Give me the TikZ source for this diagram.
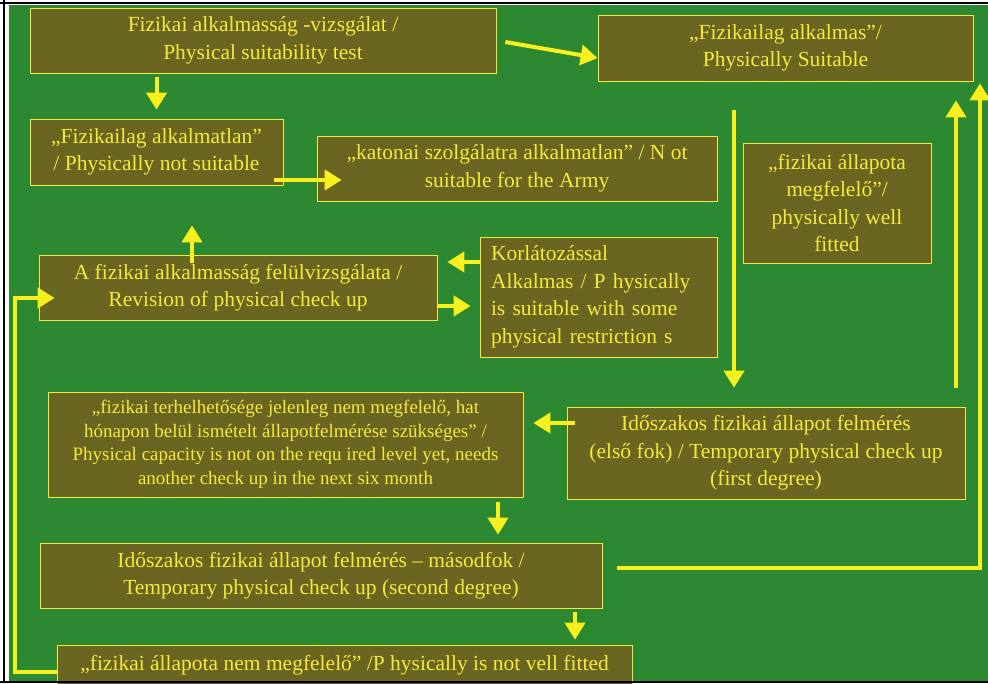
\documentclass[tikz,border=0pt]{standalone}
\usepackage{fontspec}
\setmainfont{Liberation Serif}
\usetikzlibrary{arrows.meta}

\definecolor{bggreen}{RGB}{45,136,50}
\definecolor{boxolive}{RGB}{106,101,32}
\definecolor{txtyellow}{RGB}{243,234,60}
\definecolor{arryellow}{RGB}{247,240,30}

\begin{document}
\begin{tikzpicture}[x=1pt,y=-1pt,>={Triangle[width=20pt,length=17pt]},
	box node/.style={draw=txtyellow,line width=0.7pt,fill=boxolive,text=txtyellow,inner sep=0pt,align=center,font=\fontsize{21.5}{27.5}\selectfont},
	small box/.style={box node,font=\fontsize{19}{23.5}\selectfont},
	arr/.style={->,draw=arryellow,line width=4pt}]

	\useasboundingbox (0,0) rectangle (988,683);

	%the green board behind everything
	\begin{scope}
		\fill[white] (0,0) rectangle (988,683);
		\fill[bggreen] (9,5) rectangle (988,681);
	\end{scope}

	%the boxes, top to bottom
	\begin{scope}
		\node[box node, minimum width=466pt, minimum height=65pt] (test) at (263,40.5) {Fizikai  alkalmasság -vizsgálat /\\Physical suitability test};
		\node[box node, minimum width=375pt, minimum height=66pt] (suit) at (785.5,48) {„Fizikailag alkalmas”/\\Physically  Suitable};
		\node[box node, minimum width=253pt, minimum height=66pt] (unfit) at (156.5,152) {„Fizikailag alkalmatlan”\\/ Physically not suitable};
		\node[box node, minimum width=400pt, minimum height=65pt] (army) at (517,168.5) {„katonai szolgálatra alkalmatlan” /  N ot\\suitable for the Army};
		\node[box node, minimum width=188pt, minimum height=120pt] (well) at (837,203) {„fizikai állapota\\megfelelő”/\\physically well\\fitted};
		\node[box node, minimum width=398pt, minimum height=65pt] (revision) at (238,287.5) {A fizikai alkalmasság felülvizsgálata /\\Revision  of physical check up};
		\node[box node, minimum width=237pt, minimum height=120pt, text width=215pt, align=left] (restr) at (598.5,297) {Korlátozással\\Alkalmas / P hysically\\is suitable with some\\physical restriction s};
		\node[small box, minimum width=475pt, minimum height=105pt] (capacity) at (285.5,444.5) {„fizikai terhelhetősége jelenleg nem megfelelő, hat\\hónapon belül ismételt állapotfelmérése  szükséges” /\\Physical capacity is not on the requ ired level yet, needs\\another check up in the next six month};
		\node[box node, minimum width=398pt, minimum height=92pt] (first) at (766,453) {Időszakos fizikai állapot felmérés\\(első fok) /  Temporary physical check up\\(first degree)};
		\node[box node, minimum width=562pt, minimum height=65pt] (second) at (321,575.5) {Időszakos fizikai állapot felmérés  – másodfok /\\Temporary physical check up  (second degree)};
		\node[box node, minimum width=575pt, minimum height=40pt] (notfit) at (344.5,665) {„fizikai állapota nem megfelelő” /P  hysically is not vell fitted};
	\end{scope}

	%arrows between the boxes
	\begin{scope}
		\draw[arr] ([yshift=-4pt]test.south -| unfit.north) -- ([yshift=9pt]unfit.north);
		\draw[arr] ([xshift=9pt,yshift=-1.5pt]test.east) -- ([yshift=-10pt]suit.west);
		\draw[arr] ([xshift=-9pt,yshift=-28pt]unfit.east) -- ([xshift=25pt,yshift=-11.5pt]army.west);
		\draw[arr] ([xshift=-46pt,yshift=-8pt]revision.north) -- ([xshift=35.5pt,yshift=-40pt]unfit.south);
		\draw[arr] ([yshift=35pt]restr.west) -- ([xshift=10pt,yshift=25.5pt]revision.east);
		\draw[arr] ([yshift=-18.5pt]revision.east) -- ([xshift=-9pt,yshift=-9pt]restr.west);
		\draw[arr] ([xshift=-51.5pt,yshift=-29pt]suit.south) -- ([xshift=-32pt,yshift=19pt]first.north);
		\draw[arr] ([xshift=190pt,yshift=19pt]first.north) -- ([xshift=170.5pt,yshift=-19pt]suit.south);
		\draw[arr] ([xshift=15pt,yshift=7.5pt]second.east) -| ([xshift=194.5pt,yshift=-2pt]suit.south);
		\draw[arr] ([xshift=8pt,yshift=30pt]first.west) -- ([xshift=10pt,yshift=21.5pt]capacity.east);
		\draw[arr] ([xshift=212.5pt,yshift=-5pt]capacity.south) -- ([xshift=177pt,yshift=8pt]second.north);
		\draw[arr] ([xshift=254pt,yshift=-4pt]second.south) -- ([xshift=230.5pt,yshift=5pt]notfit.north);
		\draw[arr] ([yshift=-7pt]notfit.west) -- ++(-42,0) |- ([xshift=16pt,yshift=-10.5pt]revision.west);
	\end{scope}

	%dark frame lines on the edges
	\begin{scope}
		\draw[black, line width=2.5pt] (4,0) -- (4,683);
		\draw[black, line width=2.5pt] (0,3) -- (988,3);
		\draw[black, line width=2.5pt] (0,682) -- (988,682);
	\end{scope}
\end{tikzpicture}
\end{document}
